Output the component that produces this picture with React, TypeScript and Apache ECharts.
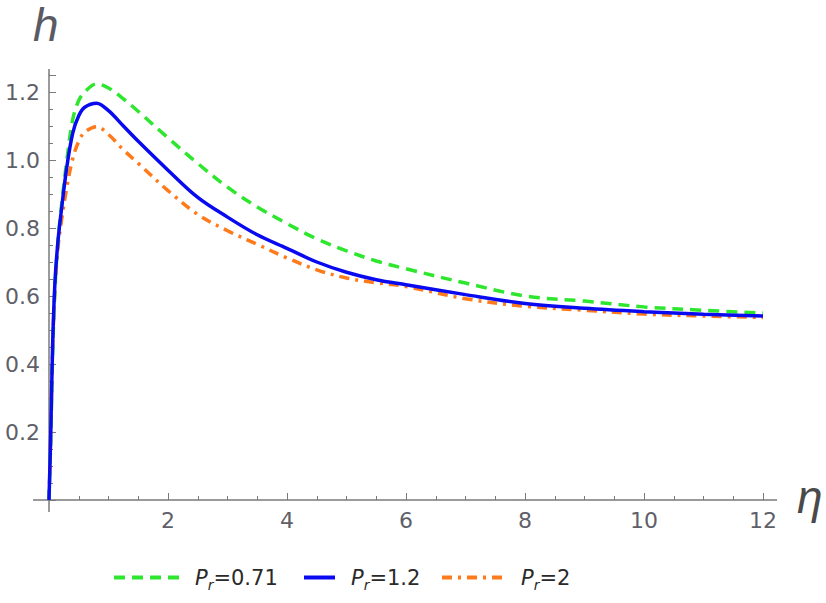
import React, { useEffect, useRef } from "react";
import * as echarts from "echarts";

const etaValues = [0, 0.03, 0.06, 0.1, 0.15, 0.2, 0.3, 0.4, 0.5, 0.6, 0.8, 1.0, 1.25, 1.5, 2, 2.5, 3, 3.5, 4, 4.5, 5, 5.5, 6, 7, 8, 9, 10, 11, 12];
const hPr071 = [0, 0.18, 0.42, 0.62, 0.76, 0.85, 1.0, 1.12, 1.175, 1.2, 1.224, 1.212, 1.18, 1.143, 1.065, 0.99, 0.92, 0.862, 0.813, 0.768, 0.733, 0.703, 0.68, 0.638, 0.6, 0.585, 0.568, 0.558, 0.55];
const hPr12 = [0, 0.2, 0.45, 0.64, 0.76, 0.84, 0.98, 1.08, 1.13, 1.155, 1.167, 1.145, 1.1, 1.055, 0.97, 0.89, 0.832, 0.78, 0.74, 0.7, 0.67, 0.648, 0.633, 0.604, 0.578, 0.564, 0.554, 0.546, 0.541];
const hPr2 = [0, 0.2, 0.44, 0.62, 0.74, 0.81, 0.92, 1.005, 1.055, 1.082, 1.098, 1.075, 1.03, 0.99, 0.91, 0.84, 0.792, 0.752, 0.712, 0.677, 0.653, 0.639, 0.628, 0.592, 0.57, 0.558, 0.547, 0.541, 0.537];
const seriesNames = ["Pr=0.71", "Pr=1.2", "Pr=2"];
const legendValues = ["0.71", "1.2", "2"];

const pairs = (ys: number[]) => etaValues.map((x, i) => [x, ys[i]]);

export default function App() {
  const ref = useRef<HTMLDivElement>(null);
  useEffect(() => {
    if (!ref.current) return;
    const chart = echarts.init(ref.current, null, { renderer: "svg" });
    const labelColor = "#5f5f6a";
    const axisColor = "#7a7a7a";
    const font = "DejaVu Sans";
    const txt = "#2a2a2a";
    const rich = {
      i: { fontStyle: "italic", fontSize: 21, fontFamily: font, color: txt, lineHeight: 28, verticalAlign: "middle" },
      s: { fontStyle: "italic", fontSize: 14, fontFamily: font, color: txt, lineHeight: 14, verticalAlign: "bottom" },
      n: { fontSize: 21, fontFamily: font, color: txt, lineHeight: 28, verticalAlign: "middle" },
    };
    const mkLegend = (idx: number, left: number, w: number) => ({
      data: [seriesNames[idx]],
      left,
      top: 562,
      itemWidth: w,
      itemHeight: 14,
      itemStyle: { opacity: 0 },
      lineStyle: { width: 4 },
      formatter: () => `{i|P}{s|r}{n|=${legendValues[idx]}}`,
      textStyle: { rich, padding: [0, 0, 0, 11] },
    });
    const common = {
      type: "line",
      symbol: "none",
      showSymbol: false,
      smooth: 0.35,
    };
    const ext = { stroke: axisColor, lineWidth: 1.5 };
    chart.setOption({
      animation: false,
      backgroundColor: "#ffffff",
      grid: { left: 49, right: 63, top: 75, bottom: 103, containLabel: false },
      legend: [mkLegend(0, 107, 65), mkLegend(1, 297, 31), mkLegend(2, 435, 63)],
      xAxis: {
        type: "value",
        min: 0,
        max: 12,
        interval: 2,
        axisLine: { show: true, lineStyle: { color: axisColor, width: 1.5 } },
        axisTick: { show: true, inside: true, length: 7, lineStyle: { color: axisColor } },
        minorTick: { show: true, splitNumber: 4, length: 4, lineStyle: { color: axisColor } },
        splitLine: { show: false },
        axisLabel: {
          color: labelColor,
          fontSize: 22,
          fontFamily: font,
          margin: 9,
          formatter: (v: number) => (v === 0 ? "" : String(v)),
        },
      },
      yAxis: {
        type: "value",
        min: 0,
        max: 1.25,
        interval: 0.2,
        axisLine: { show: true, lineStyle: { color: axisColor, width: 1.5 } },
        axisTick: { show: true, inside: true, length: 7, lineStyle: { color: axisColor } },
        minorTick: { show: true, splitNumber: 4, length: 4, lineStyle: { color: axisColor } },
        splitLine: { show: false },
        axisLabel: {
          color: labelColor,
          fontSize: 22,
          fontFamily: font,
          margin: 9,
          formatter: (v: number) => {
            if (v === 0 || Math.abs(v * 5 - Math.round(v * 5)) > 1e-6) return "";
            return (Math.round(v * 10) / 10).toFixed(1);
          },
        },
      },
      graphic: [
        { type: "line", shape: { x1: 33, y1: 500, x2: 49, y2: 500 }, style: ext, silent: true },
        { type: "line", shape: { x1: 763, y1: 500, x2: 777, y2: 500 }, style: ext, silent: true },
        { type: "line", shape: { x1: 49, y1: 500, x2: 49, y2: 512 }, style: ext, silent: true },
        { type: "line", shape: { x1: 49, y1: 69, x2: 49, y2: 75 }, style: ext, silent: true },
        {
          type: "text",
          left: 33,
          top: 2,
          style: { text: "h", fontSize: 46, fontStyle: "italic", fontFamily: "Liberation Sans", fill: "#5a5a64" },
        },
        {
          type: "text",
          left: 797,
          top: 474,
          style: { text: "η", fontSize: 46, fontStyle: "italic", fontFamily: "Liberation Sans", fill: "#4a4a4a" },
        },
      ],
      series: [
        {
          ...common,
          name: seriesNames[0],
          data: pairs(hPr071),
          z: 3,
          lineStyle: { color: "#2ee62e", width: 3.5, type: [11, 7] },
          itemStyle: { color: "#2ee62e" },
        },
        {
          ...common,
          name: seriesNames[1],
          data: pairs(hPr12),
          z: 4,
          lineStyle: { color: "#0a0af0", width: 3.5, type: "solid" },
          itemStyle: { color: "#0a0af0" },
        },
        {
          ...common,
          name: seriesNames[2],
          data: pairs(hPr2),
          z: 2,
          lineStyle: { color: "#ff7a1a", width: 3.5, type: [10, 6, 3, 6] },
          itemStyle: { color: "#ff7a1a" },
        },
      ],
    });
    return () => chart.dispose();
  }, []);
  return <div ref={ref} style={{ position: "fixed", left: 0, top: 0, width: 826, height: 603 }} />;
}
